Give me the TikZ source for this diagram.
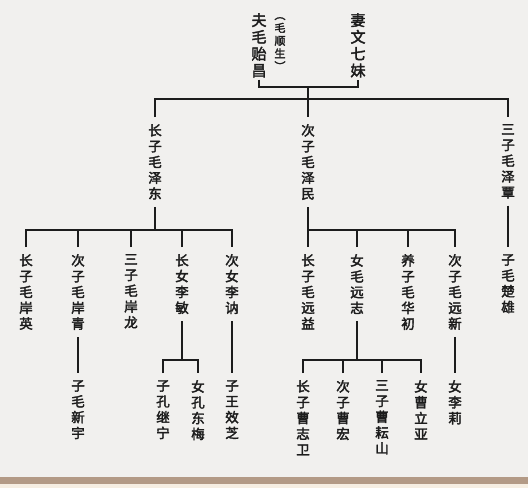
\documentclass[tikz,border=0pt]{standalone}
\usepackage{fontspec}
\newfontfamily\cjk[FakeBold=2.6]{Noto Sans CJK SC}
\usepackage{xcolor}
\usetikzlibrary{positioning}

\definecolor{paper}{HTML}{F1F0EE}
\definecolor{band}{HTML}{B39A86}
\definecolor{cream}{HTML}{F6EEE2}
\definecolor{ink}{HTML}{1C1C1C}

\begin{document}
\begin{tikzpicture}[
        x=1pt, y=-1pt,
        person/.style={
            anchor=north,
            align=center,
            inner xsep=1pt,
            inner ysep=7pt,
            text=ink,
            font=\cjk\fontsize{13.5}{15.8}\selectfont
        },
        elder/.style={
            person,
            inner ysep=2pt,
            font=\cjk\fontsize{15}{16.8}\selectfont
        },
        alias/.style={
            person,
            inner ysep=2pt,
            font=\cjk\fontsize{11}{12.8}\selectfont
        },
        line/.style={
            draw=ink,
            line width=1.1pt
        }
    ]
    % Paper
    \useasboundingbox (0,0) rectangle (528,488);
    \fill[paper] (0,0) rectangle (528,488);
    \fill[band] (0,477) rectangle (528,484);
    \fill[cream] (0,484) rectangle (528,488);

    % Nodes
    \node[elder] (fu) at (259,11) {夫\\毛\\贻\\昌};
    \node[alias] (shunsheng) at (280,15) {︵\\毛\\顺\\生\\︶};
    \node[elder] (qi) at (358,11) {妻\\文\\七\\妹};

    \node[person] (zedong) at (155,117) {长\\子\\毛\\泽\\东};
    \node[person] (zemin) at (308,117) {次\\子\\毛\\泽\\民};
    \node[person] (zetan) at (508,117) {三\\子\\毛\\泽\\覃};

    \node[person] (anying) at (26,247) {长\\子\\毛\\岸\\英};
    \node[person] (anqing) at (78,247) {次\\子\\毛\\岸\\青};
    \node[person] (anlong) at (131,247) {三\\子\\毛\\岸\\龙};
    \node[person] (limin) at (182,247) {长\\女\\李\\敏};
    \node[person] (lina) at (232,247) {次\\女\\李\\讷};
    \node[person] (yuanyi) at (308,247) {长\\子\\毛\\远\\益};
    \node[person] (yuanzhi) at (357,247) {女\\毛\\远\\志};
    \node[person] (huachu) at (408,247) {养\\子\\毛\\华\\初};
    \node[person] (yuanxin) at (455,247) {次\\子\\毛\\远\\新};
    \node[person] (chuxiong) at (508,247) {子\\毛\\楚\\雄};

    \node[person] (xinyu) at (78,373) {子\\毛\\新\\宇};
    \node[person] (jining) at (163,373) {子\\孔\\继\\宁};
    \node[person] (dongmei) at (198,373) {女\\孔\\东\\梅};
    \node[person] (xiaozhi) at (232,373) {子\\王\\效\\芝};
    \node[person] (zhiwei) at (303,373) {长\\子\\曹\\志\\卫};
    \node[person] (caohong) at (343,373) {次\\子\\曹\\宏};
    \node[person] (yunshan) at (382,373) {三\\子\\曹\\耘\\山};
    \node[person] (liya) at (421,373) {女\\曹\\立\\亚};
    \node[person] (lili) at (455,373) {女\\李\\莉};

    % Lines
    \coordinate (wed) at (308,87);
    \coordinate (sons) at (308,99);
    \coordinate (dongbar) at (155,230);
    \coordinate (minbar) at (308,230);
    \coordinate (minjoin) at (182,360);
    \coordinate (zhijoin) at (357,360);

    \draw[line] (fu.south) |- (wed) -| (qi.south);
    \draw[line] (wed) -- (sons);
    \draw[line] (zedong.north) |- (sons) -| (zetan.north);
    \draw[line] (sons) -- (zemin.north);

    \draw[line] (zedong.south) -- (dongbar);
    \draw[line] (anying.north) |- (dongbar) -| (lina.north);
    \foreach \kid in {anqing, anlong, limin}
        \draw[line] (\kid.north) -- (\kid.north |- dongbar);

    \draw[line] (zemin.south) -- (yuanyi.north);
    \draw[line] (minbar) -| (yuanxin.north);
    \foreach \kid in {yuanzhi, huachu}
        \draw[line] (\kid.north) -- (\kid.north |- minbar);
    \draw[line] (zetan.south) -- (chuxiong.north);

    \draw[line] (anqing.south) -- (xinyu.north);
    \draw[line] (limin.south) -- (minjoin);
    \draw[line] (jining.north) |- (minjoin) -| (dongmei.north);
    \draw[line] (lina.south) -- (xiaozhi.north);
    \draw[line] (yuanzhi.south) -- (zhijoin);
    \draw[line] (zhiwei.north) |- (zhijoin) -| (liya.north);
    \foreach \kid in {caohong, yunshan}
        \draw[line] (\kid.north) -- (\kid.north |- zhijoin);
    \draw[line] (yuanxin.south) -- (lili.north);
\end{tikzpicture}
\end{document}
